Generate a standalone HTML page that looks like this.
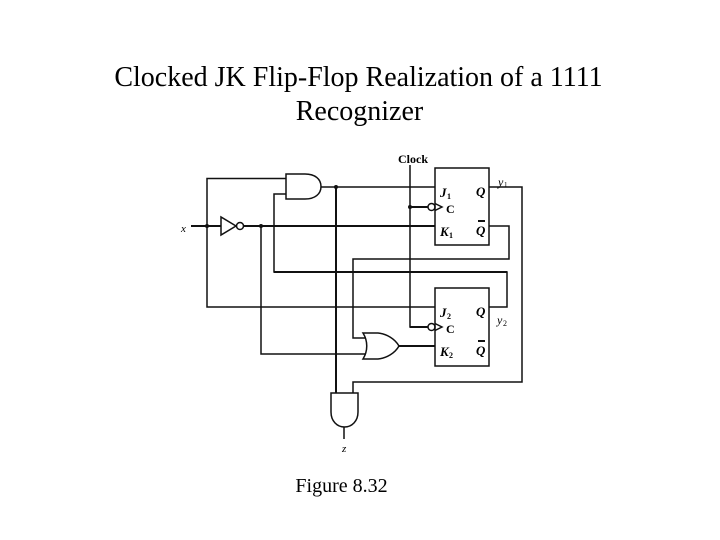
<!DOCTYPE html>
<html><head><meta charset="utf-8"><style>
html,body{margin:0;padding:0;background:#fff}
svg{display:block;filter:blur(.3px)}
text{font-family:"Liberation Serif",serif;fill:#000}
</style></head><body>
<svg width="720" height="540" viewBox="0 0 720 540" xmlns="http://www.w3.org/2000/svg">
<rect width="720" height="540" fill="#fff"/>
<text x="358.500" y="86" font-size="28" text-anchor="middle">Clocked JK Flip-Flop Realization of a 1111</text>
<text x="359.500" y="120" font-size="28" text-anchor="middle">Recognizer</text>
<text x="341.500" y="492" font-size="20" text-anchor="middle">Figure 8.32</text>

<g fill="none" stroke="#111" stroke-width="1.500">
<rect x="435" y="168" width="54" height="77"/>
<rect x="435" y="288" width="54" height="78"/>
<path d="M286 178.500H207V307H435"/>
<path d="M286 194H274V272H507V307H489"/>
<path d="M321 187H435"/>
<path d="M489 226H509V259H353V338H366"/>
<path d="M489 187H522V382H353V393"/>
<path d="M410 165V327H428"/>
<path d="M344 427V439"/>
<path d="M286 174V199H305C315 199 321 194 321 186.500C321 179 315 174 305 174Z"/>
<path d="M221 217V235L236 226Z"/>
<circle cx="240" cy="226" r="3.500"/>
<circle cx="431.500" cy="207" r="3.500"/>
<circle cx="431.500" cy="327" r="3.500"/>
<path d="M435 203.500L442 207L435 210.500"/>
<path d="M435 323.500L442 327L435 330.500"/>
<path d="M363 333H378C387 334 395 339 399 346C395 353 387 358 378 359H363C368 351 368 341 363 333Z"/>
<path d="M331 393H358V412C358 421 352 427 344.500 427C337 427 331 421 331 412Z"/>
<path d="M261 226V354H366"/>
</g>
<g fill="none" stroke="#111" stroke-width="2">
<path d="M191 226H221"/>
<path d="M244 226H435"/>
<path d="M336 187V393"/>
<path d="M410 207H428"/>
<path d="M410 327H428"/>
<path d="M399 346H435"/>
<path d="M274 272H507"/>
<path d="M478 221H485M478 341H485"/>
</g>
<g fill="#111">
<circle cx="207" cy="226" r="2"/>
<circle cx="261" cy="226" r="2"/>
<circle cx="336" cy="187" r="2"/>
<circle cx="410" cy="207" r="2"/>
</g>

<text x="398" y="163" font-size="12" font-weight="bold">Clock</text>
<text x="181" y="232" font-size="11" font-style="italic">x</text>
<text x="342" y="452" font-size="11" font-style="italic">z</text>
<g font-size="13" font-weight="bold" font-style="italic">
<text x="440" y="197">J</text>
<text x="440" y="236">K</text>
<text x="440" y="317">J</text>
<text x="440" y="356">K</text>
<text x="476" y="196">Q</text>
<text x="476" y="235">Q</text>
<text x="476" y="316">Q</text>
<text x="476" y="355">Q</text>
</g>
<g font-size="8" font-weight="bold">
<text x="447" y="199">1</text>
<text x="449" y="238">1</text>
<text x="447" y="319">2</text>
<text x="449" y="358">2</text>
</g>
<text x="446" y="213" font-size="12" font-weight="bold">C</text>
<text x="446" y="333" font-size="12" font-weight="bold">C</text>
<text x="498" y="186" font-size="12" font-style="italic">y</text>
<text x="504" y="187" font-size="7">1</text>
<text x="497" y="324" font-size="12" font-style="italic">y</text>
<text x="503" y="326" font-size="8">2</text>
</svg>
</body></html>
